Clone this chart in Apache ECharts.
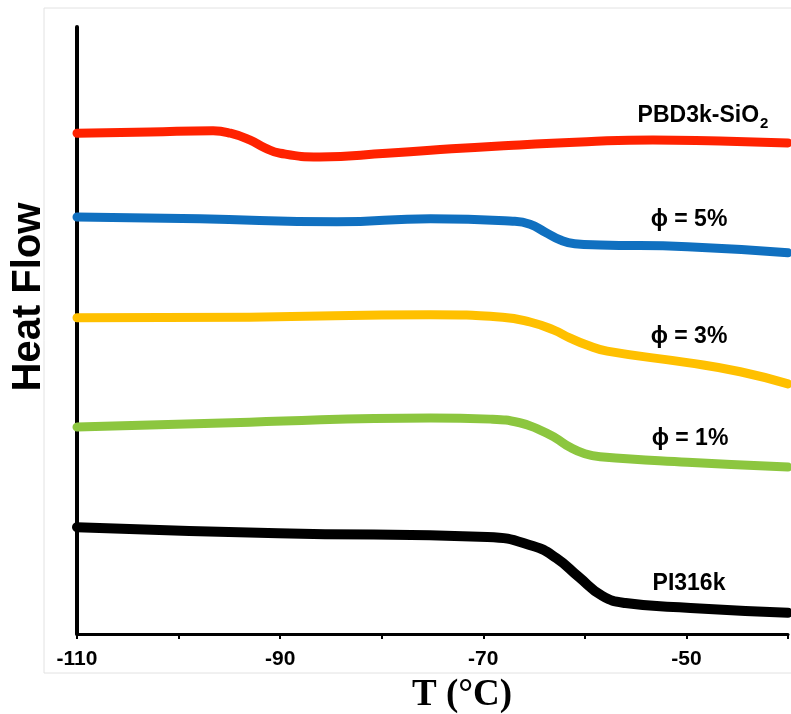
<!DOCTYPE html>
<html>
<head>
<meta charset="utf-8">
<script src="https://cdn.jsdelivr.net/npm/echarts@6/dist/echarts.min.js"></script>
<style>html,body{margin:0;padding:0;background:#fff;}#c{width:791px;height:714px;}</style>
</head>
<body>
<div id="c"></div>
<script>
// Temperature (°C) sample points and heat flow (arbitrary units, offset per curve)
const redT    = [-110, -102.8, -96.6, -94.9, -93, -91.5, -90, -86.1, -79.5, -75.2, -68.4, -59.8, -53.3, -46.7, -40];
const redHF   = [82.5, 82.7, 82.9, 82.5, 81.4, 80.1, 79.2, 78.6, 79.2, 79.7, 80.4, 81.1, 81.4, 81.2, 80.9];
const blueT   = [-110, -97.9, -84.4, -75.2, -67.1, -65.4, -63.9, -62.4, -61.0, -58.5, -49.9, -40];
const blueHF  = [68.7, 68.4, 67.9, 68.4, 68.0, 67.5, 66.2, 64.9, 64.3, 64.1, 63.8, 62.8];
const yelT    = [-110, -93, -75.2, -68.1, -65.4, -63.1, -61.5, -59.8, -57.8, -49.9, -44.7, -40];
const yelHF   = [52.1, 52.2, 52.6, 52.2, 51.4, 50.1, 48.8, 47.6, 46.6, 44.7, 43.2, 41.2];
const greenT  = [-110, -93, -75.2, -69.3, -66.4, -64.4, -62.9, -61.5, -60.0, -58.5, -49.9, -40];
const greenHF = [34.1, 34.9, 35.6, 35.4, 34.8, 33.6, 32.3, 30.8, 29.7, 29.2, 28.3, 27.5];
const blackT  = [-110, -90.2, -69.6, -65.1, -62.8, -60.6, -58.3, -56.0, -49.6, -40];
const blackHF = [17.6, 16.6, 16.0, 14.5, 12.5, 9.4, 6.3, 5.1, 4.3, 3.5];
const seriesNames = ['PBD3k-SiO2', 'ϕ = 5%', 'ϕ = 3%', 'ϕ = 1%', 'PI316k'];
const xTickLabels = [-110, -90, -70, -50];

const zip = (a, b) => a.map((v, i) => [v, b[i]]);
const colors = ['#ff2200', '#1070c0', '#ffc000', '#8cc63f', '#000000'];
const widths = [9, 9, 9, 9, 10];
const sets = [[redT, redHF], [blueT, blueHF], [yelT, yelHF], [greenT, greenHF], [blackT, blackHF]];

const chart = echarts.init(document.getElementById('c'));
const labelPos = [[703, 114], [689, 220], [689, 337], [690, 439], [689, 584]];
const labelFont = '"Liberation Sans", Arial';

function labelText(i) {
  if (i === 0) {
    return {
      type: 'text', x: labelPos[i][0], y: labelPos[i][1],
      style: {
        text: '{m|PBD3k-SiO}{s|2}', textAlign: 'center', textVerticalAlign: 'middle',
        rich: {
          m: { fontFamily: labelFont, fontWeight: 'bold', fontSize: 23, fill: '#000', color: '#000', verticalAlign: 'bottom', lineHeight: 26 },
          s: { fontFamily: labelFont, fontWeight: 'bold', fontSize: 15, fill: '#000', color: '#000', verticalAlign: 'bottom', lineHeight: 20, padding: [0, 0, -4, 1] }
        }
      }
    };
  }
  return {
    type: 'text', x: labelPos[i][0], y: labelPos[i][1],
    style: { text: seriesNames[i], fill: '#000', font: 'bold 23px ' + labelFont, textAlign: 'center', textVerticalAlign: 'middle' }
  };
}

chart.setOption({
  animation: false,
  backgroundColor: '#fff',
  grid: { left: 77, right: 3, top: 27, bottom: 80, outerBoundsMode: 'none', containLabel: false },
  xAxis: {
    type: 'value', min: -110, max: -40, interval: 10,
    axisLine: { lineStyle: { color: '#000', width: 3 } },
    axisTick: { show: true, length: 5, lineStyle: { color: '#000', width: 2 } },
    splitLine: { show: false },
    axisLabel: {
      color: '#000', fontFamily: labelFont, fontWeight: 'bold', fontSize: 21, margin: 15,
      formatter: v => xTickLabels.indexOf(v) >= 0 ? String(v) : ''
    }
  },
  yAxis: {
    type: 'value', min: 0, max: 100,
    axisLine: { show: true, lineStyle: { color: '#000', width: 4 } },
    axisTick: { show: false }, axisLabel: { show: false }, splitLine: { show: false }
  },
  graphic: [
    { type: 'rect', shape: { x: 44, y: 8, width: 800, height: 665 }, style: { fill: 'none', stroke: '#e2e2e2', lineWidth: 1 }, z: -10 },
    { type: 'text', x: 29, y: 297, rotation: Math.PI / 2,
      style: { text: 'Heat Flow', fill: '#000', font: 'bold 40px ' + labelFont, textAlign: 'center', textVerticalAlign: 'middle' } },
    { type: 'text', x: 462, y: 695,
      style: { text: 'T (°C)', fill: '#000', font: 'bold 37px "Liberation Serif", "Times New Roman", serif', textAlign: 'center', textVerticalAlign: 'middle' } }
  ].concat(seriesNames.map((n, i) => labelText(i))),
  series: sets.map((s, i) => ({
    name: seriesNames[i], type: 'line', data: zip(s[0], s[1]),
    smooth: 0.5, showSymbol: false,
    lineStyle: { color: colors[i], width: widths[i], cap: 'round', join: 'round' }
  }))
});
</script>
</body>
</html>
